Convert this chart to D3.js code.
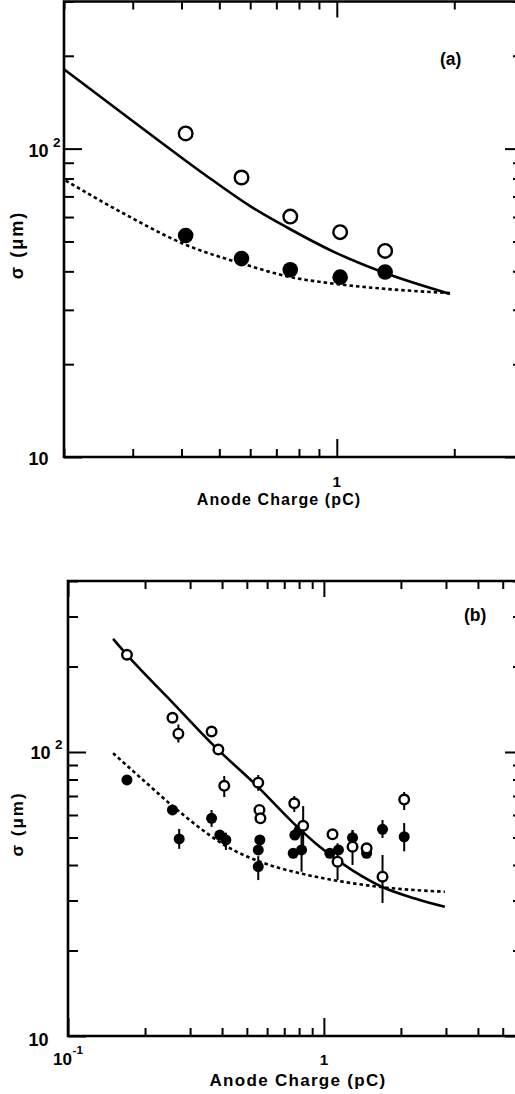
<!DOCTYPE html>
<html>
<head>
<meta charset="utf-8">
<script src="https://cdn.jsdelivr.net/npm/d3@7"></script>
<style>
  html, body { margin: 0; padding: 0; background: #fff; overflow: hidden; }
  svg { display: block; }
  text { font-family: "Liberation Sans", Arial, Helvetica, sans-serif; font-weight: bold; fill: #000; }
</style>
</head>
<body>
<svg id="fig" width="515" height="1094"></svg>
<script>
// ---------- Panel (a): resolution vs anode charge ----------
const chargeA       = [0.41, 0.57, 0.76, 1.02, 1.33];
const sigmaOpenA    = [112, 80.6, 60.2, 53.6, 46.6];
const sigmaFilledA  = [52.3, 44.0, 40.5, 38.3, 39.8];
const fitSolidChargeA = [0.2, 0.313, 0.482, 0.6, 0.744, 0.989, 1.329, 1.95];
const fitSolidSigmaA  = [181, 118, 78.8, 65.1, 55.6, 46.1, 39.5, 33.8];
const fitDashChargeA  = [0.202, 0.287, 0.413, 0.571, 0.756, 1.016, 1.329, 1.95];
const fitDashSigmaA   = [78.8, 61.2, 48.6, 42.4, 38.4, 36.3, 35.1, 34.0];

// ---------- Panel (b) ----------
const chargeOpenB = [0.170, 0.256, 0.270, 0.364, 0.387, 0.408, 0.554, 0.560, 0.565, 0.766, 0.830, 1.081, 1.131, 1.294, 1.469, 1.695, 2.06];
const sigmaOpenB  = [220, 132, 116, 118, 102, 76, 78, 62.5, 58.4, 66, 55, 51.3, 41.1, 46.4, 45.8, 36.4, 68];
const errLoOpenB  = [220, 132, 108, 118, 102, 69.4, 73, 62.5, 58.4, 61.5, 47, 51.3, 35.4, 40.0, 45.8, 29.4, 62.5];
const errHiOpenB  = [220, 132, 125, 118, 102, 82.3, 83, 62.5, 58.4, 70.0, 64.5, 51.3, 47.7, 53.0, 45.8, 43.4, 72.3];

const chargeFilledB = [0.170, 0.256, 0.272, 0.364, 0.392, 0.414, 0.554, 0.554, 0.562, 0.759, 0.770, 0.800, 0.818, 1.055, 1.140, 1.294, 1.469, 1.695, 2.06];
const sigmaFilledB  = [79.7, 62.5, 49.4, 58.4, 51.0, 49.0, 45.2, 39.5, 49.0, 44.0, 51.0, 53.0, 45.2, 44.0, 45.2, 49.9, 44.0, 53.4, 50.3];
const errLoFilledB  = [79.7, 62.5, 45.6, 54.5, 51.0, 45.2, 45.2, 35.4, 49.0, 44.0, 51.0, 53.0, 37.9, 44.0, 45.2, 46.5, 44.0, 49.8, 44.7];
const errHiFilledB  = [79.7, 62.5, 53.6, 62.5, 51.0, 52.0, 45.2, 43.0, 49.0, 44.0, 51.0, 53.0, 52.0, 44.0, 45.2, 53.1, 44.0, 57.6, 56.2];

const fitSolidChargeB = [0.15, 0.17, 0.258, 0.375, 0.551, 0.760, 0.963, 1.298, 1.700, 2.268, 2.97];
const fitSolidSigmaB  = [250, 219.6, 148.4, 104.4, 75.5, 56.2, 46.4, 38.2, 33.4, 30.5, 28.5];
const fitDashChargeB  = [0.15, 0.2, 0.258, 0.442, 0.562, 0.806, 1.087, 1.382, 1.695, 2.97];
const fitDashSigmaB   = [99, 78.6, 64.2, 45.2, 41.1, 37.4, 35.4, 34.2, 33.4, 32.2];

const xTitle = "Anode Charge (pC)";
const yTitle = "σ (μm)";

const svg = d3.select("#fig");

function drawPanel(p) {
  const x = d3.scaleLog().domain(p.xDomain).range(p.xRange);
  const y = d3.scaleLog().domain(p.yDomain).range(p.yRange);
  const g = svg.append("g");
  const [x0, x1] = p.xRange, [y0, y1] = p.yRange;

  const isMajor = v => Math.abs(Math.log10(v) - Math.round(Math.log10(v))) < 1e-9;
  const xt = x.ticks(), yt = y.ticks();
  const xMaj = xt.filter(isMajor), xMin = xt.filter(v => !isMajor(v));
  const yMaj = yt.filter(isMajor), yMin = yt.filter(v => !isMajor(v));

  function ticks(axisGen, vals, size, tx, ty) {
    const a = g.append("g").attr("transform", `translate(${tx},${ty})`)
      .call(axisGen.tickValues(vals).tickSize(-size).tickFormat(""));
    a.select(".domain").remove();
    a.selectAll("line").attr("stroke", "#000").attr("stroke-width", 2);
  }
  ticks(d3.axisLeft(y), yMin, 10, x0, 0);
  ticks(d3.axisLeft(y), yMaj, 18, x0, 0);
  ticks(d3.axisRight(y), yMin, 10, x1, 0);
  ticks(d3.axisRight(y), yMaj, 18, x1, 0);
  ticks(d3.axisBottom(x), xMin, 8, 0, y0);
  ticks(d3.axisBottom(x), xMaj, 18, 0, y0);
  ticks(d3.axisTop(x), xMin, 8, 0, y1);
  ticks(d3.axisTop(x), xMaj, 16, 0, y1);

  // frame: top, left and bottom edges (right edge lies past the page)
  g.append("path")
    .attr("d", `M${x1 + 5},${y1}H${x0}V${y0}H${x1 + 5}`)
    .attr("fill", "none").attr("stroke", "#000").attr("stroke-width", 2.6);

  // fitted curves
  const line = d3.line().x(d => x(d[0])).y(d => y(d[1])).curve(d3.curveMonotoneX);
  g.append("path").datum(d3.zip(p.solidX, p.solidY)).attr("d", line)
    .attr("fill", "none").attr("stroke", "#000").attr("stroke-width", 2.6);
  g.append("path").datum(d3.zip(p.dashX, p.dashY)).attr("d", line)
    .attr("fill", "none").attr("stroke", "#000").attr("stroke-width", 2.6)
    .attr("stroke-dasharray", "3.5,3");

  // error bars
  if (p.filledLo) {
    g.selectAll(null).data(d3.zip(p.filledX, p.filledLo, p.filledHi)).join("line")
      .attr("x1", d => x(d[0])).attr("x2", d => x(d[0]))
      .attr("y1", d => y(d[1])).attr("y2", d => y(d[2]))
      .attr("stroke", "#000").attr("stroke-width", 2);
    g.selectAll(null).data(d3.zip(p.openX, p.openLo, p.openHi)).join("line")
      .attr("x1", d => x(d[0])).attr("x2", d => x(d[0]))
      .attr("y1", d => y(d[1])).attr("y2", d => y(d[2]))
      .attr("stroke", "#000").attr("stroke-width", 2);
  }

  // markers
  g.selectAll(null).data(d3.zip(p.filledX, p.filledY)).join("circle")
    .attr("cx", d => x(d[0])).attr("cy", d => y(d[1])).attr("r", p.rFilled).attr("fill", "#000");
  g.selectAll(null).data(d3.zip(p.openX, p.openY)).join("circle")
    .attr("cx", d => x(d[0])).attr("cy", d => y(d[1])).attr("r", p.rOpen)
    .attr("fill", "#fff").attr("stroke", "#000").attr("stroke-width", 2.4);

  // tick labels
  g.append("text").attr("x", 48.5).attr("y", y(10) + p.lab10dy).attr("text-anchor", "end")
    .attr("font-size", p.labSize).text("10");
  g.append("text").attr("x", p.hundredX).attr("y", y(100) + p.lab100dy).attr("text-anchor", "end")
    .attr("font-size", p.labSize).text("10");
  g.append("text").attr("x", p.hundredX + 4.5).attr("y", y(100) + p.lab100dy - 10)
    .attr("font-size", p.labSize * 0.75).text("2");
  g.append("text").attr("x", x(1)).attr("y", p.oneY).attr("text-anchor", "middle")
    .attr("font-size", p.labSize * 0.85).text("1");
  if (p.tenthLabel) {
    g.append("text").attr("x", 72).attr("y", p.oneY).attr("text-anchor", "end")
      .attr("font-size", p.labSize * 0.95).text("10");
    g.append("text").attr("x", 72.5).attr("y", p.oneY - 11)
      .attr("font-size", p.labSize * 0.65).text("-1");
  }

  // axis titles and panel tag
  g.append("text").attr("x", p.xTitleX).attr("y", p.xTitleY).attr("text-anchor", "middle")
    .attr("font-size", p.titleSize).attr("letter-spacing", p.titleSpacing).text(xTitle);
  g.append("text").attr("transform", `translate(${p.yTitleX},${p.yTitleY}) rotate(-90)`)
    .attr("text-anchor", "middle").attr("font-size", p.yTitleSize).attr("letter-spacing", 2).text(yTitle);
  g.append("text").attr("x", p.tagX).attr("y", p.tagY).attr("font-size", 17.5).text(p.tag);
}

drawPanel({
  xDomain: [0.2, 3], xRange: [64, 523],
  yDomain: [10, 300], yRange: [457, 1.5],
  openX: chargeA, openY: sigmaOpenA,
  filledX: chargeA, filledY: sigmaFilledA,
  solidX: fitSolidChargeA, solidY: fitSolidSigmaA,
  dashX: fitDashChargeA, dashY: fitDashSigmaA,
  rOpen: 6.8, rFilled: 7.8,
  labSize: 18, lab10dy: 7.5, hundredX: 48.5, lab100dy: 8.5,
  oneY: 487, xTitleX: 279, xTitleY: 505, titleSize: 16, titleSpacing: 1.1,
  yTitleX: 23, yTitleY: 245, yTitleSize: 18,
  tag: "(a)", tagX: 440, tagY: 65
});

drawPanel({
  xDomain: [0.1, 6], xRange: [68, 523],
  yDomain: [10, 400], yRange: [1036, 581],
  openX: chargeOpenB, openY: sigmaOpenB, openLo: errLoOpenB, openHi: errHiOpenB,
  filledX: chargeFilledB, filledY: sigmaFilledB, filledLo: errLoFilledB, filledHi: errHiFilledB,
  solidX: fitSolidChargeB, solidY: fitSolidSigmaB,
  dashX: fitDashChargeB, dashY: fitDashSigmaB,
  rOpen: 4.8, rFilled: 5.5,
  labSize: 18, lab10dy: 9.5, hundredX: 50.5, lab100dy: 7,
  oneY: 1065, tenthLabel: true,
  xTitleX: 298, xTitleY: 1086, titleSize: 17, titleSpacing: 1.3,
  yTitleX: 23, yTitleY: 824, yTitleSize: 17,
  tag: "(b)", tagX: 464, tagY: 621
});
</script>
</body>
</html>
